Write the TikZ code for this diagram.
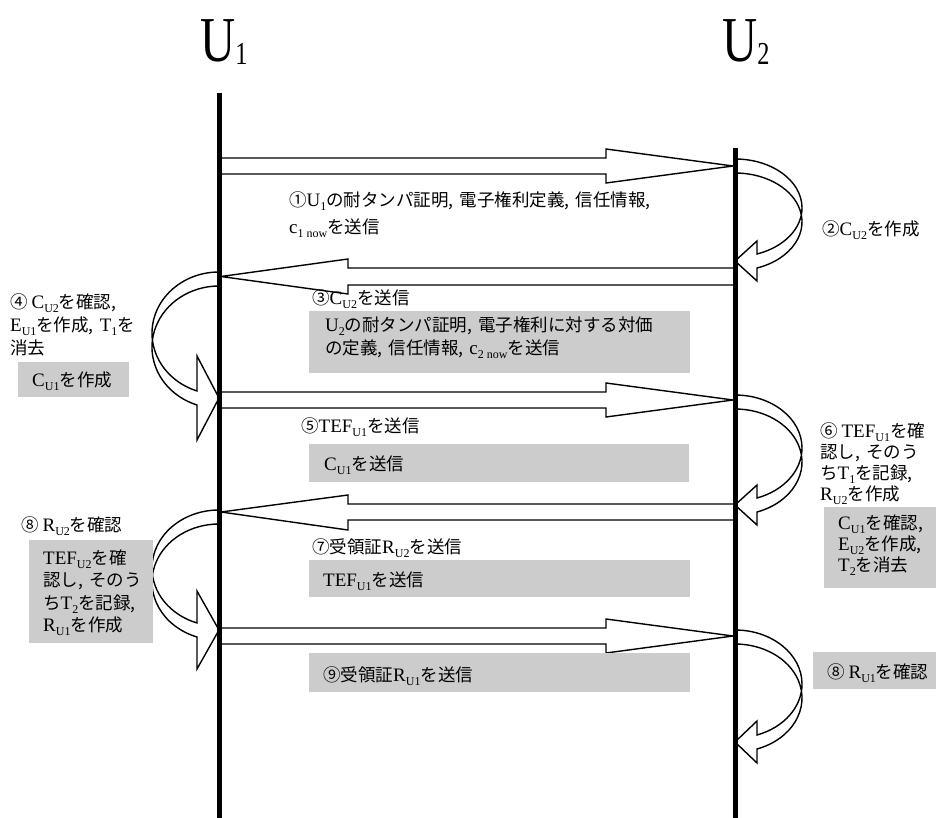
\documentclass[tikz,border=0pt]{standalone}
\usepackage{fontspec}
\setmainfont{Liberation Serif}
\newfontfamily\jpf{Noto Sans CJK JP}
\definecolor{boxgray}{RGB}{204,204,204}
\newcommand\subs[1]{\raisebox{-4pt}{\fontsize{12}{12}\selectfont\rmfamily #1}}
\newcommand\lt[1]{{\fontsize{19}{22}\selectfont\rmfamily #1}}
\newcommand\V[2]{\lt{#1}\subs{#2}}
\newcommand\cm{,\hspace{6pt}}
\newcommand\loopR[3]{%
  \pgfmathsetmacro\lry{(#2-7-#1)/1.94455}%
  \draw[blk] (735,#1) arc[start angle=90,end angle=-70.83,x radius=67pt,y radius=\lry pt]
    -- (757,{#2-#3}) -- (735,#2) -- (757,{#2+#3}) -- (757,{#2+7})
    arc[start angle=-70.83,end angle=90,x radius=67pt,y radius=\lry pt];}
\newcommand\loopL[3]{%
  \pgfmathsetmacro\lry{(#2-7-#1)/1.94455}%
  \draw[blk] (219,#1) arc[start angle=90,end angle=250.83,x radius=67pt,y radius=\lry pt]
    -- (197,{#2-#3}) -- (219,#2) -- (197,{#2+#3}) -- (197,{#2+7})
    arc[start angle=250.83,end angle=90,x radius=67pt,y radius=\lry pt];}
\begin{document}
\begin{tikzpicture}[x=1pt,y=-1pt,
  blk/.style={draw=black,line width=1.4pt,fill=white,line join=miter},
  life/.style={line width=5pt,black},
  txt/.style={anchor=base west,inner sep=0pt,font={\jpf\fontsize{17.5}{22}\selectfont}},
  gbox/.style={fill=boxgray,draw=none,inner sep=0pt,anchor=north west},
  ttl/.style={anchor=base west,inner sep=0pt,font={\fontsize{64}{70}\selectfont\rmfamily}}]
\useasboundingbox (0,0) rectangle (936,818);
% titles
\node[ttl] (u1) at (200,62) {\scalebox{0.76}[1]{U\raisebox{-3pt}{\fontsize{32}{32}\selectfont 1}}};
\node[ttl] (u2) at (722,62) {\scalebox{0.76}[1]{U\raisebox{-3pt}{\fontsize{32}{32}\selectfont 2}}};
% lifeline coordinates
\coordinate (l1top) at (219,93);
\coordinate (l1bot) at (219,818);
\coordinate (l2top) at (735,148);
\coordinate (l2bot) at (735,818);
% straight block arrows
\draw[blk] (219,158) -- (606,158) -- (606,149) -- (733,166) -- (606,183) -- (606,174) -- (219,174);
\draw[blk] (735,268) -- (348,268) -- (348,259) -- (221,276.5) -- (348,294) -- (348,285) -- (735,285);
\draw[blk] (219,392) -- (606,392) -- (606,383) -- (733,400) -- (606,417) -- (606,408) -- (219,408);
\draw[blk] (735,504) -- (348,504) -- (348,495) -- (221,512) -- (348,530) -- (348,520) -- (735,520);
\draw[blk] (219,628) -- (606,628) -- (606,619) -- (733,636) -- (606,653) -- (606,644) -- (219,644);
% curved block arrows
\loopR{159}{261}{20}
\loopR{395}{505}{20}
\loopR{630}{742}{21}
\loopL{272}{398}{42}
\loopL{510}{630}{39}
% lifelines
\draw[life] (l1top) -- (l1bot);
\draw[life] (l2top) -- (l2bot);
% gray boxes
\node[gbox,minimum width=381pt,minimum height=62pt] (b3) at (309,311) {};
\node[gbox,minimum width=111pt,minimum height=35pt] (b4) at (18,362) {};
\node[gbox,minimum width=380pt,minimum height=38pt] (b5) at (309,444) {};
\node[gbox,minimum width=112pt,minimum height=81pt] (b6) at (824,507) {};
\node[gbox,minimum width=381pt,minimum height=37pt] (b7) at (309,560) {};
\node[gbox,minimum width=124pt,minimum height=103pt] (b8) at (29,540) {};
\node[gbox,minimum width=381pt,minimum height=39pt] (b9) at (309,653) {};
\node[gbox,minimum width=123pt,minimum height=37pt] (b10) at (813,652) {};
% texts
\node[txt] (t1a) at (289,207) {①\V{U}{1}の耐タンパ証明\cm 電子権利定義\cm 信任情報,};
\node[txt] (t1b) at (289,234) {\V{c}{1 now}を送信};
\node[txt] (t2) at (822,236) {②\V{C}{U2}を作成};
\node[txt] (t3) at (312,304) {③\V{C}{U2}を送信};
\node[txt] (t3a) at (325,331) {\V{U}{2}の耐タンパ証明\cm 電子権利に対する対価};
\node[txt] (t3b) at (325,354) {の定義\cm 信任情報\cm \V{c}{2 now}を送信};
\node[txt] (t4a) at (10,308) {④ \V{C}{U2}を確認,};
\node[txt] (t4b) at (10,331) {\V{E}{U1}を作成\cm\V{T}{1}を};
\node[txt] (t4c) at (10,354) {消去};
\node[txt] (t4d) at (32,386) {\V{C}{U1}を作成};
\node[txt] (t5) at (301,432) {⑤\V{TEF}{U1}を送信};
\node[txt] (t5a) at (324,470) {\V{C}{U1}を送信};
\node[txt] (t6a) at (820,437) {⑥ \V{TEF}{U1}を確};
\node[txt] (t6b) at (820,458) {認し\cm そのう};
\node[txt] (t6c) at (820,479) {ち\V{T}{1}を記録,};
\node[txt] (t6d) at (820,500) {\V{R}{U2}を作成};
\node[txt] (t6e) at (838,529) {\V{C}{U1}を確認,};
\node[txt] (t6f) at (838,550) {\V{E}{U2}を作成,};
\node[txt] (t6g) at (838,571) {\V{T}{2}を消去};
\node[txt] (t7) at (312,553) {⑦受領証\V{R}{U2}を送信};
\node[txt] (t7a) at (323,586) {\V{TEF}{U1}を送信};
\node[txt] (t8) at (21,531) {⑧ \V{R}{U2}を確認};
\node[txt] (t8a) at (43,564) {\V{TEF}{U2}を確};
\node[txt] (t8b) at (43,586) {認し\cm そのう};
\node[txt] (t8c) at (43,609) {ち\V{T}{2}を記録,};
\node[txt] (t8d) at (43,631) {\V{R}{U1}を作成};
\node[txt] (t9) at (323,681) {⑨受領証\V{R}{U1}を送信};
\node[txt] (t10) at (827,678) {⑧ \V{R}{U1}を確認};
\end{tikzpicture}
\end{document}
